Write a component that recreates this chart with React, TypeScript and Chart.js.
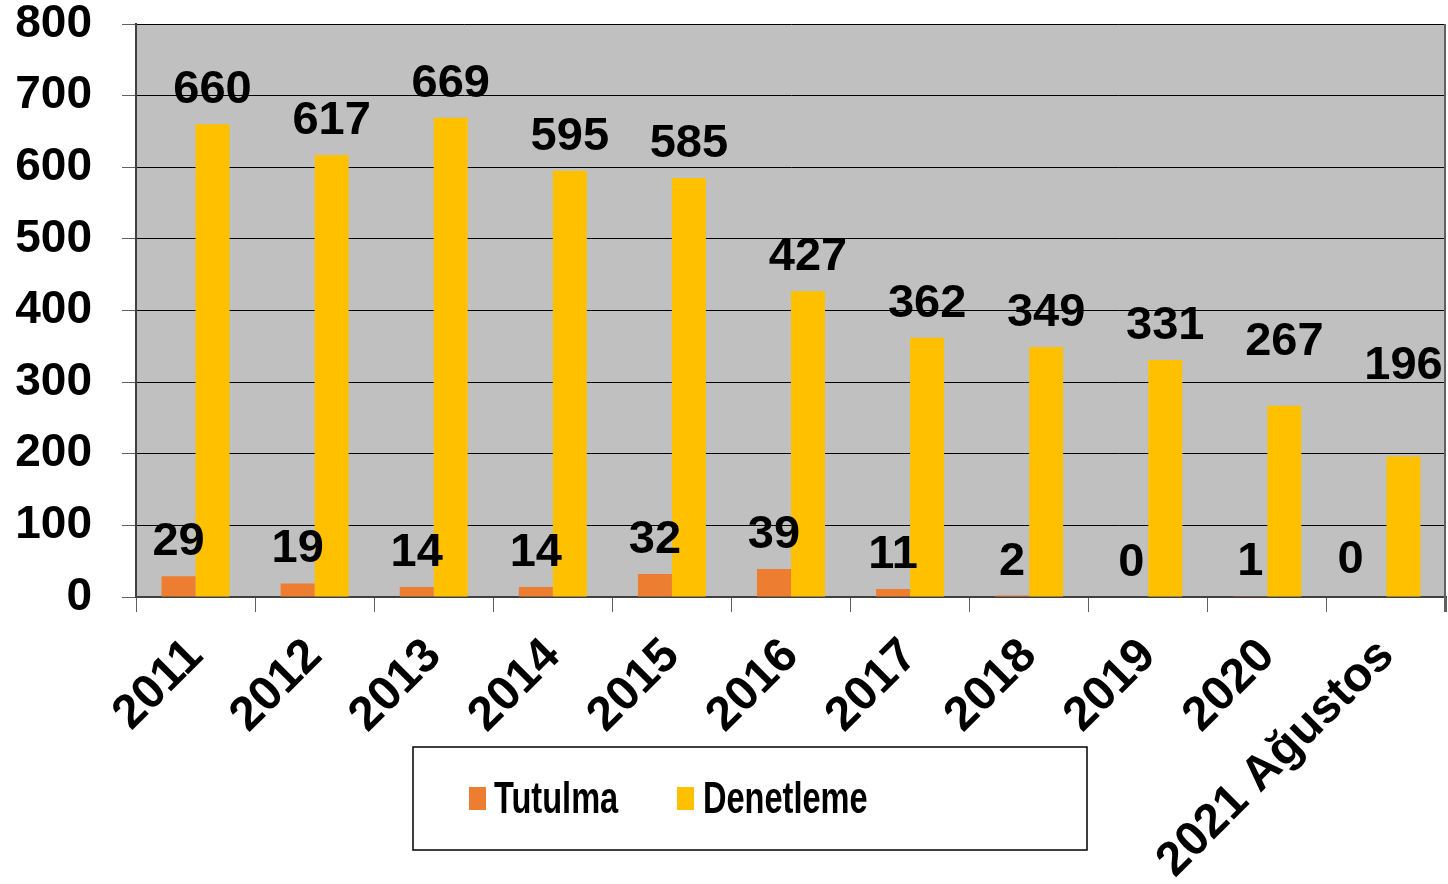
import React, { useEffect, useRef } from "react";
import { Chart, registerables } from "chart.js";

Chart.register(...registerables);

const categories = ["2011", "2012", "2013", "2014", "2015", "2016", "2017", "2018", "2019", "2020", "2021 Ağustos"];
const tutulma = [29, 19, 14, 14, 32, 39, 11, 2, 0, 1, 0];
const denetleme = [660, 617, 669, 595, 585, 427, 362, 349, 331, 267, 196];
const yTicks = [0, 100, 200, 300, 400, 500, 600, 700, 800];

// manual data-label nudges (as moved by hand in the original)
const labelNudges = [
  { dataset: 1, index: 9, dx: 0, dy: -30 },
  { dataset: 1, index: 10, dx: 0, dy: -57 },
  { dataset: 0, index: 10, dx: -19, dy: -3 },
];

const FONT = "'Liberation Sans', Arial, Helvetica, sans-serif";

const bgPlugin = {
  id: "plotBg",
  beforeDraw(chart: any) {
    const { ctx, chartArea } = chart;
    ctx.save();
    ctx.fillStyle = "#C0C0C0";
    ctx.fillRect(chartArea.left, chartArea.top, chartArea.right - chartArea.left, chartArea.bottom - chartArea.top);
    ctx.restore();
  },
  afterDraw(chart: any) {
    const { ctx, chartArea } = chart;
    ctx.save();
    ctx.strokeStyle = "#606060";
    ctx.lineWidth = 2;
    ctx.beginPath();
    ctx.moveTo(chartArea.right - 1, chartArea.top);
    ctx.lineTo(chartArea.right - 1, chartArea.bottom + 15);
    ctx.stroke();
    ctx.restore();
  },
};

const labelPlugin = {
  id: "valueLabels",
  afterDatasetsDraw(chart: any) {
    const { ctx } = chart;
    ctx.save();
    ctx.fillStyle = "#000";
    ctx.font = `bold 47px ${FONT}`;
    ctx.textAlign = "center";
    ctx.textBaseline = "alphabetic";
    chart.data.datasets.forEach((ds: any, i: number) => {
      const meta = chart.getDatasetMeta(i);
      meta.data.forEach((el: any, j: number) => {
        const n = labelNudges.find((q) => q.dataset === i && q.index === j);
        const dx = n ? n.dx : 0;
        const dy = n ? n.dy : 0;
        ctx.fillText(String(ds.data[j]), el.x + dx, el.y - 21 + dy);
      });
    });
    ctx.restore();
  },
};

const legendPlugin = {
  id: "boxLegend",
  afterDraw(chart: any) {
    const { ctx } = chart;
    const box = { x: 413, y: 747, w: 674, h: 103 };
    ctx.save();
    ctx.fillStyle = "#fff";
    ctx.fillRect(box.x, box.y, box.w, box.h);
    ctx.strokeStyle = "#000";
    ctx.lineWidth = 1.5;
    ctx.strokeRect(box.x, box.y, box.w, box.h);
    const items = [
      { sx: 469, tx: 494 },
      { sx: 677, tx: 703 },
    ];
    chart.data.datasets.forEach((ds: any, i: number) => {
      const it = items[i];
      ctx.fillStyle = ds.backgroundColor;
      ctx.fillRect(it.sx, 787, 17, 23);
      ctx.save();
      ctx.translate(it.tx, 813);
      ctx.scale(0.74, 1);
      ctx.fillStyle = "#000";
      ctx.font = `bold 44px ${FONT}`;
      ctx.textAlign = "left";
      ctx.textBaseline = "alphabetic";
      ctx.fillText(ds.label, 0, 0);
      ctx.restore();
    });
    ctx.restore();
  },
};

export default function App() {
  const ref = useRef<HTMLCanvasElement | null>(null);
  useEffect(() => {
    if (!ref.current) return;
    const chart = new Chart(ref.current, {
      type: "bar",
      data: {
        labels: categories,
        datasets: [
          { label: "Tutulma", data: tutulma, backgroundColor: "#ED7D31", categoryPercentage: 0.571, barPercentage: 1 },
          { label: "Denetleme", data: denetleme, backgroundColor: "#FFC000", categoryPercentage: 0.571, barPercentage: 1 },
        ],
      },
      options: {
        responsive: false,
        animation: false,
        layout: { padding: { top: 24, right: 2, left: 0, bottom: 0 } },
        plugins: { legend: { display: false }, tooltip: { enabled: false } },
        scales: {
          x: {
            offset: true,
            grid: { drawOnChartArea: false, drawTicks: true, tickLength: 15, color: "#606060", offset: true },
            border: { display: true, color: "#404040", width: 2 },
            ticks: {
              color: "#000",
              font: { family: FONT, size: 48, weight: "bold" },
              minRotation: 45,
              maxRotation: 45,
              padding: 16,
            },
            afterFit: (s: any) => {
              s.height = 287;
              s.paddingLeft = 0;
              s.paddingRight = 0;
            },
          },
          y: {
            min: 0,
            max: 800,
            afterBuildTicks: (s: any) => {
              s.ticks = yTicks.map((v) => ({ value: v }));
            },
            grid: { color: "#000", lineWidth: 1, tickLength: 14, tickColor: "#606060" },
            border: { display: true, color: "#404040", width: 2 },
            ticks: {
              color: "#000",
              font: { family: FONT, size: 46, weight: "bold", lineHeight: 1 },
              padding: 30,
            },
            afterFit: (s: any) => {
              s.width = 136;
              s.paddingTop = 0;
              s.paddingBottom = 0;
            },
          },
        },
      },
      plugins: [bgPlugin, labelPlugin, legendPlugin],
    });
    return () => chart.destroy();
  }, []);
  return (
    <div style={{ position: "fixed", left: 0, top: 0, width: 1448, height: 884, background: "#fff" }}>
      <canvas ref={ref} width={1448} height={884} style={{ width: 1448, height: 884, display: "block" }} />
    </div>
  );
}
